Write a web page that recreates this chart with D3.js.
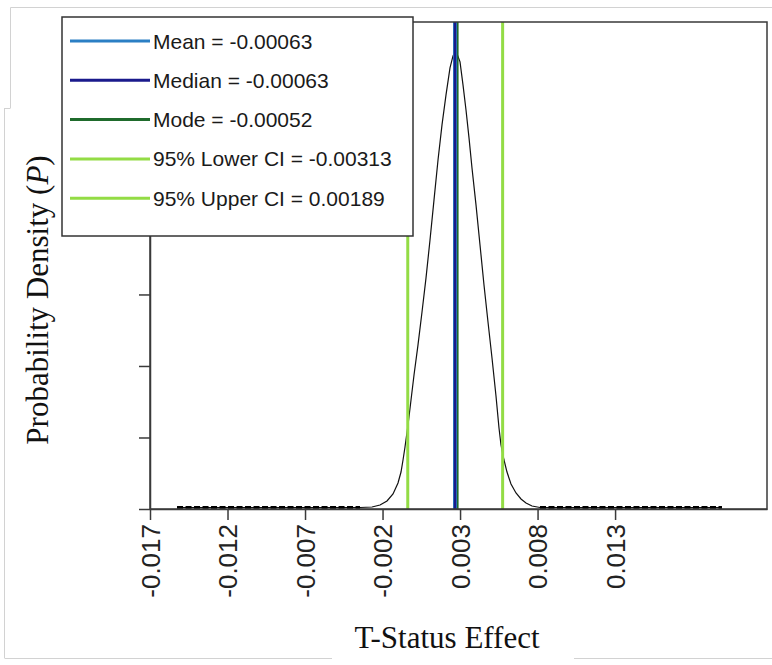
<!DOCTYPE html>
<html>
<head>
<meta charset="utf-8">
<script src="https://cdn.jsdelivr.net/npm/d3@7/dist/d3.min.js"></script>
<style>
  html, body { margin: 0; padding: 0; background: #ffffff; }
  svg { display: block; }
</style>
</head>
<body>
<svg id="chart" width="772" height="665"></svg>
<script>
// ---------------- DATA ----------------
// Posterior density curve (x in effect units, density in arbitrary units; y ticks every 100)
const xValues = [
  -0.015339, -0.013064, -0.010418, -0.007773, -0.005656,
  -0.005022, -0.004598, -0.004228, -0.003910, -0.003646,
  -0.003487, -0.003381, -0.003276, -0.003117, -0.002958,
  -0.002799, -0.002588, -0.002376, -0.002164, -0.001953,
  -0.001741, -0.001529, -0.001318, -0.001106, -0.000895,
  -0.000736, -0.000630, -0.000524, -0.000365, -0.000207,
  -0.000048, 0.000111, 0.000269, 0.000481, 0.000693,
  0.000904, 0.001116, 0.001328, 0.001539, 0.001698,
  0.001804, 0.001963, 0.002121, 0.002333, 0.002598,
  0.002862, 0.003127, 0.003444, 0.003867, 0.005984,
  0.009158, 0.011804, 0.013497
];
const densityValues = [
  2.1, 2.1, 2.1, 2.1, 2.1,
  2.8, 5.6, 11.2, 21.0, 36.4,
  51.7, 68.5, 86.7, 117.5, 152.4,
  187.4, 229.4, 275.5, 323.1, 376.2,
  432.2, 488.1, 537.1, 579.0, 616.8,
  633.6, 639.2, 636.4, 625.2, 593.0,
  558.0, 518.9, 476.9, 425.2, 369.2,
  313.3, 261.5, 211.2, 158.0, 113.3,
  89.5, 68.5, 51.7, 35.0, 22.4,
  14.0, 8.4, 4.2, 2.1, 2.1,
  2.1, 2.1, 2.1
];

// Summary statistics
const statNames  = ["Mean", "Median", "Mode", "95% Lower CI", "95% Upper CI"];
const statValues = [-0.00063, -0.00063, -0.00052, -0.00313, 0.00189];
const statLabels = ["-0.00063", "-0.00063", "-0.00052", "-0.00313", "0.00189"];

// Axis tick labels as printed on the original chart
const xTickValues = [-0.017, -0.012, -0.007, -0.002, 0.003, 0.008, 0.013];
const xTickLabels = ["-0.017", "-0.012", "-0.007", "-0.002", "0.003", "0.008", "0.013"];
const yTickValues = [0, 100, 200, 300, 400, 500, 600];

const xDomain = [-0.01677, 0.01588];      // data domain of the plot area
const xLabelDomain = [-0.017, 0.0228];    // domain of the printed tick scale
const yDomain = [0, 681];

// ---------------- STYLES / LAYOUT ----------------
const statColors = {
  "Mean": "#2b7fc4",
  "Median": "#1a1a8c",
  "Mode": "#1f6b2c",
  "95% Lower CI": "#93dc45",
  "95% Upper CI": "#93dc45"
};
const statWidths = { "Mean": 4, "Median": 2.4, "Mode": 3, "95% Lower CI": 3, "95% Upper CI": 3 };
const drawOrder = ["95% Lower CI", "95% Upper CI", "Mode", "Mean", "Median"];

const margin = { left: 150, top: 22, right: 5, bottom: 156 };
const W = 772, H = 665;
const pw = W - margin.left - margin.right;   // 617
const ph = H - margin.top - margin.bottom;   // 487

const svg = d3.select("#chart");

// faint screenshot frame lines
const frame = svg.append("g").attr("stroke", "#d2d2d2").attr("stroke-width", 1).attr("fill", "none");
frame.append("path").attr("d", "M10.5,108 V7.5 H772");
frame.append("path").attr("d", "M4.5,108.5 H10.5 M4.5,108 V658");
frame.append("path").attr("d", "M4.5,658.5 H332 M574,658.5 H772");

const x = d3.scaleLinear().domain(xDomain).range([0, pw]);
const xLab = d3.scaleLinear().domain(xLabelDomain).range([0, pw]);
const y = d3.scaleLinear().domain(yDomain).range([ph, 0]);

const g = svg.append("g").attr("transform", `translate(${margin.left},${margin.top})`);

// curve
const pts = xValues.map((v, i) => ({ x: v, d: densityValues[i] }));
const line = d3.line().x(p => x(p.x)).y(p => y(p.d));
g.append("path").datum(pts)
  .attr("fill", "none").attr("stroke", "#111").attr("stroke-width", 1.2)
  .attr("d", line);

// dashed tails (near-zero density)
const tailMax = d3.min(densityValues) + 0.01;
const leftTail = [], rightTail = [];
let inLeft = true;
pts.forEach(p => {
  if (p.d <= tailMax) { (inLeft ? leftTail : rightTail).push(p); }
  else inLeft = false;
});
[leftTail, rightTail].forEach(t => {
  g.append("path").datum(t)
    .attr("fill", "none").attr("stroke", "#000").attr("stroke-width", 3)
    .attr("stroke-dasharray", "6,2.5")
    .attr("d", line);
});

// vertical statistic lines
drawOrder.forEach(name => {
  const i = statNames.indexOf(name);
  g.append("line")
    .attr("x1", x(statValues[i])).attr("x2", x(statValues[i]))
    .attr("y1", 0).attr("y2", ph)
    .attr("stroke", statColors[name]).attr("stroke-width", statWidths[name]);
});

// plot frame
g.append("rect").attr("x", 0).attr("y", 0).attr("width", pw).attr("height", ph)
  .attr("fill", "none").attr("stroke", "#3a3a3a").attr("stroke-width", 1.5);

// x axis
const xAxis = d3.axisBottom(xLab)
  .tickValues(xTickValues)
  .tickFormat((d, i) => xTickLabels[i])
  .tickSize(11).tickPadding(5).tickSizeOuter(0);
const xg = g.append("g").attr("transform", `translate(0,${ph})`).call(xAxis);
xg.select(".domain").attr("stroke", "#3a3a3a").attr("stroke-width", 1.5);
xg.selectAll(".tick line").attr("stroke", "#3a3a3a").attr("stroke-width", 1.5);
xg.selectAll(".tick text")
  .attr("font-family", "'Liberation Sans', Arial, sans-serif")
  .attr("font-size", 26).attr("fill", "#222")
  .attr("transform", "rotate(-90)")
  .attr("text-anchor", "end")
  .attr("x", -15).attr("y", 0).attr("dy", "0.36em");

// y axis (ticks only)
const yAxis = d3.axisLeft(y).tickValues(yTickValues).tickFormat("")
  .tickSize(11).tickSizeOuter(0);
const yg = g.append("g").call(yAxis);
yg.select(".domain").attr("stroke", "#3a3a3a").attr("stroke-width", 1.5);
yg.selectAll(".tick line").attr("stroke", "#3a3a3a").attr("stroke-width", 1.5);

// axis titles
svg.append("text")
  .attr("transform", "translate(37,300) rotate(-90)")
  .attr("text-anchor", "middle").attr("dy", "0.35em")
  .attr("font-family", "'Liberation Serif', 'Times New Roman', serif")
  .attr("font-size", 31).attr("fill", "#111")
  .call(t => {
    t.append("tspan").text("Probability Density (");
    t.append("tspan").attr("font-style", "italic").text("P");
    t.append("tspan").text(")");
  });

svg.append("text")
  .attr("x", 447).attr("y", 648)
  .attr("text-anchor", "middle")
  .attr("font-family", "'Liberation Serif', 'Times New Roman', serif")
  .attr("font-size", 31).attr("fill", "#111")
  .text("T-Status Effect");

// legend
const lg = svg.append("g").attr("transform", "translate(62,17)");
lg.append("rect").attr("x", 0).attr("y", 0).attr("width", 351).attr("height", 219)
  .attr("fill", "#ffffff").attr("stroke", "#333").attr("stroke-width", 1.5);
statNames.forEach((name, i) => {
  const yy = 24 + i * 39.3;
  lg.append("line").attr("x1", 8).attr("x2", 88).attr("y1", yy).attr("y2", yy)
    .attr("stroke", statColors[name]).attr("stroke-width", 3);
  lg.append("text").attr("x", 91).attr("y", yy).attr("dy", "0.36em")
    .attr("font-family", "'Liberation Sans', Arial, sans-serif")
    .attr("font-size", 21).attr("fill", "#1a1a1a")
    .text(`${name} = ${statLabels[i]}`);
});
</script>
</body>
</html>
